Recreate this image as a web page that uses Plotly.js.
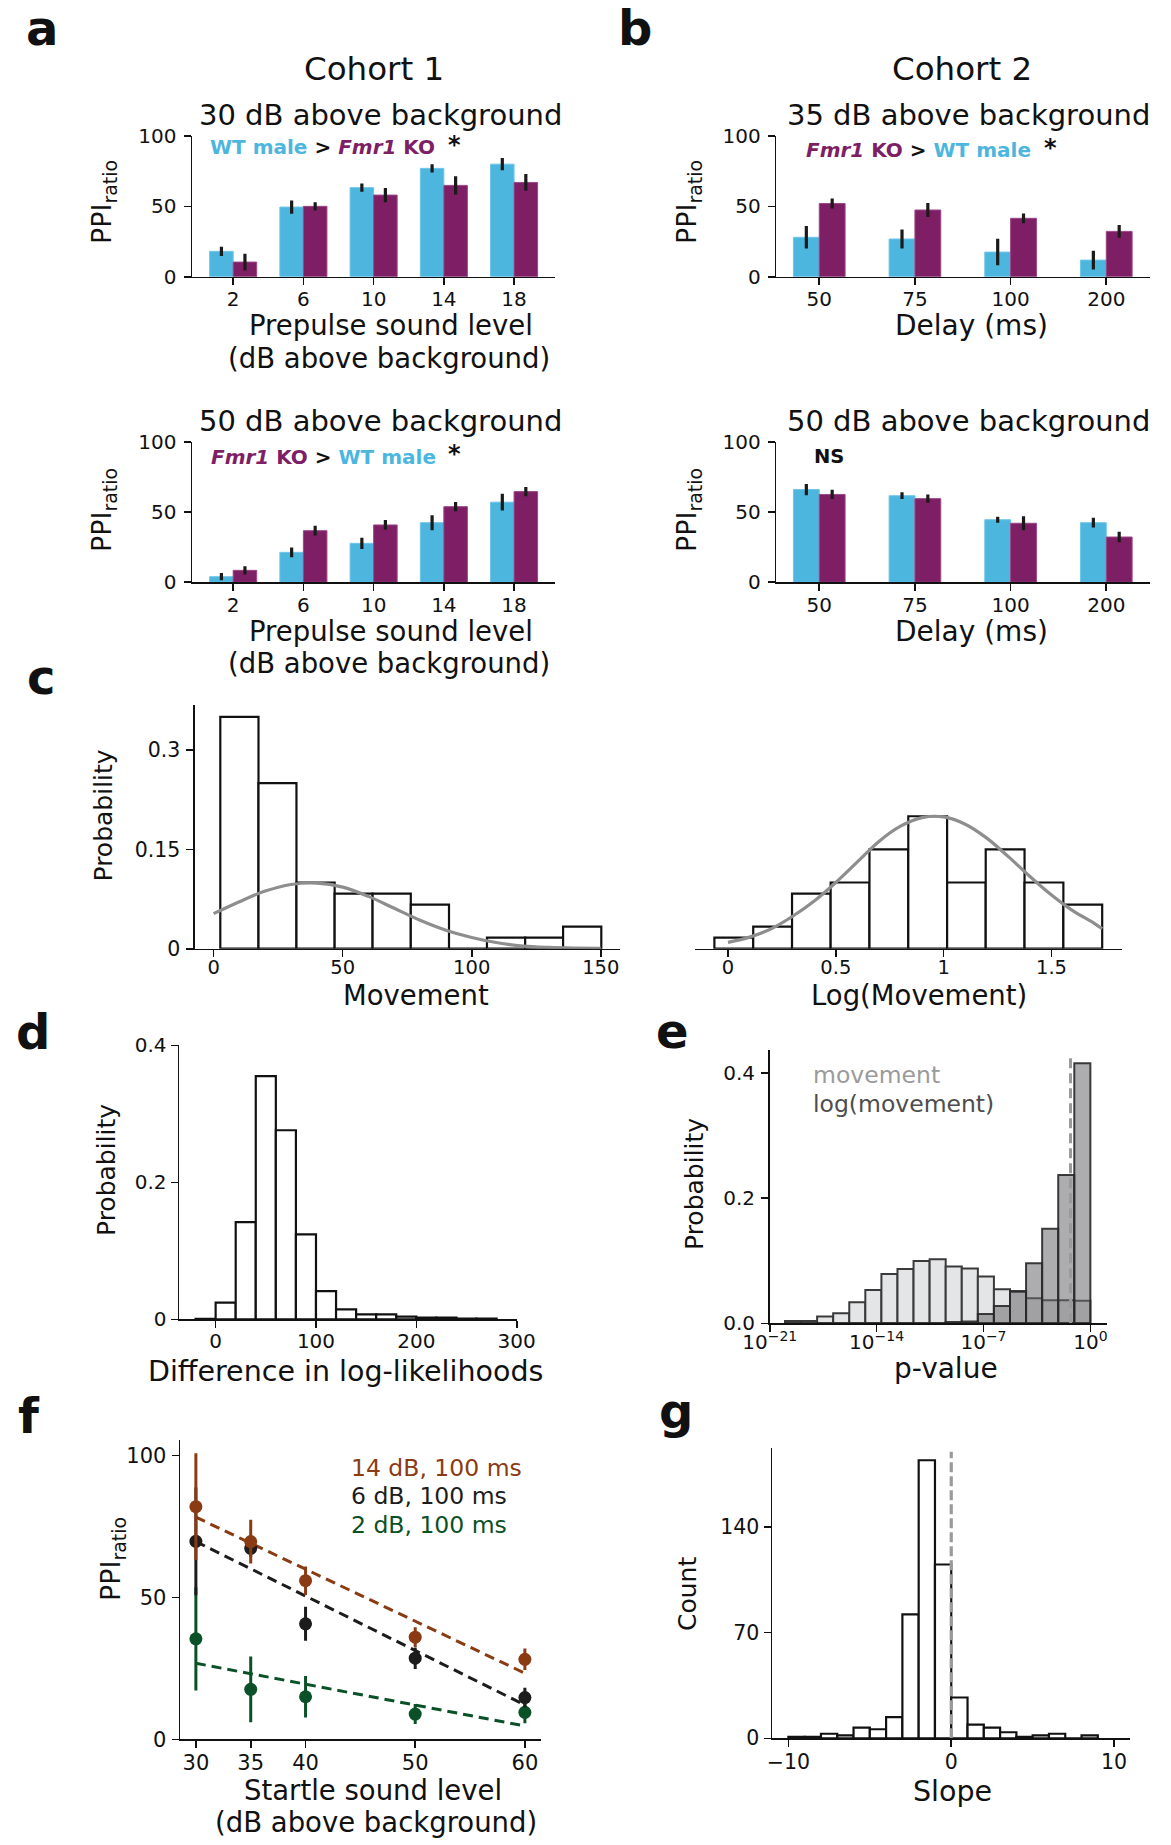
<!DOCTYPE html>
<html><head><meta charset="utf-8">
<script src="https://cdn.plot.ly/plotly-3.0.1.min.js"></script>
<style>html,body{margin:0;padding:0;background:#fff;}#chart{width:1171px;height:1845px;}</style>
</head><body><div id="chart"></div>
<script>
// ---------------- data ----------------
const prepulseLevels = ['2', '6', '10', '14', '18'];
const a30WT = [18, 49.5, 63.3, 77, 80];
const a30WTerr = [3.3, 4.7, 3, 3, 4.3];
const a30KO = [10.4, 50, 58, 64.9, 67];
const a30KOerr = [6, 3, 5, 6.5, 6];
const a50WT = [4, 21.3, 27.7, 42.4, 57];
const a50WTerr = [2.6, 3.5, 4, 5.3, 6];
const a50KO = [8.5, 36.7, 40.8, 53.8, 64.5];
const a50KOerr = [3, 3.5, 3.5, 3.3, 3.3];

const delays = ['50', '75', '100', '200'];
const b35WT = [28, 26.8, 17.5, 11.8];
const b35WTerr = [8, 6.8, 9.4, 6.6];
const b35KO = [52, 47.4, 41.5, 32.2];
const b35KOerr = [3.5, 5, 3.5, 4.5];
const b50WT = [66, 61.6, 44.5, 42.4];
const b50WTerr = [4, 2.4, 2.1, 3.5];
const b50KO = [62.5, 59.5, 42, 32.2];
const b50KOerr = [3.3, 3, 5, 3.7];

const movementEdges = [2.6, 17.4, 32.1, 46.9, 61.6, 76.4, 91.2, 105.9, 120.7, 135.4, 150.2];
const movementProb = [0.35, 0.25, 0.10, 0.0833, 0.0833, 0.0667, 0, 0.0167, 0.0167, 0.0333];
const movementFitX = [0, 10, 20, 30, 40, 50, 60, 70, 80, 90, 100, 110, 120, 130, 140, 150];
const movementFitY = [0.053, 0.071, 0.087, 0.097, 0.099, 0.093, 0.079, 0.061, 0.043, 0.028, 0.017, 0.009, 0.004, 0.002, 0.001, 0.0005];

const logMovementEdges = [-0.063, 0.117, 0.297, 0.476, 0.656, 0.836, 1.016, 1.195, 1.375, 1.555, 1.735];
const logMovementProb = [0.0167, 0.0333, 0.0833, 0.1, 0.15, 0.2, 0.1, 0.15, 0.1, 0.0667];
const logMovementFitX = [0, 0.1, 0.2, 0.3, 0.4, 0.5, 0.6, 0.7, 0.8, 0.9, 1.0, 1.1, 1.2, 1.3, 1.4, 1.5, 1.6, 1.7, 1.735];
const logMovementFitY = [0.0096, 0.0175, 0.030, 0.049, 0.072, 0.100, 0.131, 0.162, 0.185, 0.198, 0.199, 0.188, 0.167, 0.139, 0.109, 0.081, 0.057, 0.038, 0.030];

const llDiffEdges = [-20, 0, 20, 40, 60, 80, 100, 120, 140, 160, 180, 200, 220, 240, 260, 280];
const llDiffProb = [0.0005, 0.0244, 0.142, 0.355, 0.276, 0.124, 0.041, 0.0146, 0.0073, 0.0073, 0.0039, 0.0024, 0.0024, 0.001, 0.001];

// p-value histogram: bin edges as log10(p)
const pLog10Edges = [-20, -18.947, -17.895, -16.842, -15.789, -14.737, -13.684, -12.632, -11.579, -10.526, -9.474, -8.421, -7.368, -6.316, -5.263, -4.211, -3.158, -2.105, -1.053, 0];
const pMovementProb = [0.0037, 0.0037, 0.0107, 0.016, 0.0336, 0.0533, 0.079, 0.087, 0.0997, 0.1024, 0.0907, 0.0875, 0.0747, 0.0544, 0.05, 0.04, 0.037, 0.037, 0.036];
const pLogMovementProb = [0, 0, 0, 0, 0, 0, 0, 0, 0, 0, 0.002, 0.003, 0.0147, 0.0277, 0.0517, 0.096, 0.151, 0.237, 0.416];
const pThresholdLog10 = -1.301;
const pTickVals = [-21, -14, -7, 0];
const pTickText = ['10<sup>−21</sup>', '10<sup>−14</sup>', '10<sup>−7</sup>', '10<sup>0</sup>'];

const startleLevels = [30, 35, 40, 50, 60];
const ppi14dB = [82.0, 69.7, 55.9, 36.0, 28.2];
const ppi14dBerr = [18.8, 7.7, 5.0, 3.5, 3.8];
const ppi6dB = [69.8, 67.3, 40.7, 28.6, 14.7];
const ppi6dBerr = [19, 3, 6, 3.8, 3.5];
const ppi2dB = [35.4, 17.6, 15.0, 8.9, 9.5];
const ppi2dBerr = [18.2, 11.6, 7.3, 3.5, 3.8];
const fitX = [30, 60];
const fit14dB = [78.3, 23.3];
const fit6dB = [69.7, 12.1];
const fit2dB = [26.8, 4.7];

const slopeEdges = [-10, -9, -8, -7, -6, -5, -4, -3, -2, -1, 0, 1, 2, 3, 4, 5, 6, 7, 8, 9];
const slopeCount = [1, 1, 3, 2, 7, 6, 14, 82, 184, 115, 27, 9, 7, 4, 1, 2, 3, 0, 2];
const slopeZeroLine = [0, 189.7];

// ---------------- styling / layout helpers ----------------
const W = 1171, H = 1845;
const FONT = "'DejaVu Sans', sans-serif";
const ink = '#111111';
const WT_C = '#4cb6de', WT_E = '#6ec6e8';
const KO_C = '#7e1f66', KO_E = '#9a4785';
const BROWN = '#8b3b13', BLACK = '#1c1c1c', GREEN = '#0b5128';
const xd = (l, r) => [l / W, r / W];
const yd = (t, b) => [1 - b / H, 1 - t / H];

function axis(extra, size, standoff) {
  return Object.assign({
    showline: true, linecolor: ink, linewidth: 1.6, ticks: 'outside', ticklen: 7,
    tickwidth: 1.6, tickcolor: ink, showgrid: false, zeroline: false, fixedrange: true,
    ticklabelstandoff: standoff || 0,
    tickfont: {family: FONT, size: size || 20, color: ink}
  }, extra);
}

function groupedBars(cats, wt, wtErr, ko, koErr, w, xa, ya) {
  const eb = arr => ({type: 'data', array: arr, visible: true, thickness: 3.2, width: 0, color: '#1a1a1a'});
  return [
    {type: 'bar', x: cats, y: wt, width: w, offset: -w, marker: {color: WT_C, line: {color: WT_E, width: 1}},
     error_y: eb(wtErr), xaxis: xa, yaxis: ya, hoverinfo: 'skip'},
    {type: 'bar', x: cats, y: ko, width: w, offset: 0, marker: {color: KO_C, line: {color: KO_E, width: 1}},
     error_y: eb(koErr), xaxis: xa, yaxis: ya, hoverinfo: 'skip'}
  ];
}

function histBars(edges, heights, xa, ya, fill, edge, lw) {
  const x = heights.map((_, i) => (edges[i] + edges[i + 1]) / 2);
  const w = heights.map((_, i) => edges[i + 1] - edges[i]);
  return {type: 'bar', x: x, y: heights, width: w, marker: {color: fill, line: {color: edge, width: lw}},
          xaxis: xa, yaxis: ya, hoverinfo: 'skip'};
}

function pointsWithErr(x, y, err, color, xa, ya) {
  return {type: 'scatter', mode: 'markers', x: x, y: y, xaxis: xa, yaxis: ya,
          marker: {size: 13, color: color},
          error_y: {type: 'data', array: err, visible: true, thickness: 3, width: 0, color: color}, hoverinfo: 'skip'};
}
function dashed(x, y, color, width, dash, xa, ya) {
  return {type: 'scatter', mode: 'lines', x: x, y: y, xaxis: xa, yaxis: ya,
          line: {color: color, width: width, dash: dash}, hoverinfo: 'skip'};
}

// ---------------- traces ----------------
const traces = [];
traces.push(...groupedBars(prepulseLevels, a30WT, a30WTerr, a30KO, a30KOerr, 0.335, 'x', 'y'));
traces.push(...groupedBars(prepulseLevels, a50WT, a50WTerr, a50KO, a50KOerr, 0.335, 'x2', 'y2'));
traces.push(...groupedBars(delays, b35WT, b35WTerr, b35KO, b35KOerr, 0.27, 'x3', 'y3'));
traces.push(...groupedBars(delays, b50WT, b50WTerr, b50KO, b50KOerr, 0.27, 'x4', 'y4'));

traces.push(histBars(movementEdges, movementProb, 'x5', 'y5', '#ffffff', ink, 2.2));
traces.push({type: 'scatter', mode: 'lines', x: movementFitX, y: movementFitY, xaxis: 'x5', yaxis: 'y5',
             line: {color: '#8e8e8e', width: 3.2, shape: 'spline'}, hoverinfo: 'skip'});
traces.push(histBars(logMovementEdges, logMovementProb, 'x6', 'y6', '#ffffff', ink, 2.2));
traces.push({type: 'scatter', mode: 'lines', x: logMovementFitX, y: logMovementFitY, xaxis: 'x6', yaxis: 'y6',
             line: {color: '#8e8e8e', width: 3.2, shape: 'spline'}, hoverinfo: 'skip'});

traces.push(histBars(llDiffEdges, llDiffProb, 'x7', 'y7', '#ffffff', ink, 2.2));

traces.push(histBars(pLog10Edges, pMovementProb, 'x8', 'y8', '#e4e5e7', '#3a3a3a', 2));
traces.push(histBars(pLog10Edges, pLogMovementProb, 'x8', 'y8', 'rgba(105,106,110,0.55)', 'rgba(40,40,40,0.9)', 2));
traces.push(dashed([pThresholdLog10, pThresholdLog10], [0, 0.429], '#9a9a9a', 3, '10px,5px', 'x8', 'y8'));

traces.push(dashed(fitX, fit2dB, GREEN, 3, '10px,6px', 'x9', 'y9'));
traces.push(dashed(fitX, fit6dB, BLACK, 3, '10px,6px', 'x9', 'y9'));
traces.push(dashed(fitX, fit14dB, BROWN, 3, '10px,6px', 'x9', 'y9'));
traces.push(pointsWithErr(startleLevels, ppi2dB, ppi2dBerr, GREEN, 'x9', 'y9'));
traces.push(pointsWithErr(startleLevels, ppi6dB, ppi6dBerr, BLACK, 'x9', 'y9'));
traces.push(pointsWithErr(startleLevels, ppi14dB, ppi14dBerr, BROWN, 'x9', 'y9'));

traces.push(histBars(slopeEdges, slopeCount, 'x10', 'y10', '#ffffff', ink, 2.2));
traces.push(dashed([0, 0], slopeZeroLine, '#9a9a9a', 3.2, '10px,4px', 'x10', 'y10'));

// ---------------- annotations ----------------
const anns = [];
function txt(text, cx, base, size, opt) {
  opt = opt || {};
  const f = Object.assign({family: FONT, size: size, color: ink}, opt.font || {});
  anns.push({xref: 'paper', yref: 'paper', x: cx / W, y: 1 - (base - 0.346 * size) / H,
             xanchor: opt.xanchor || 'center', yanchor: 'middle', text: text, showarrow: false, font: f});
}
function vtxt(text, cx, cy, size) {
  anns.push({xref: 'paper', yref: 'paper', x: cx / W, y: 1 - cy / H, xanchor: 'center', yanchor: 'middle',
             text: text, textangle: -90, showarrow: false, font: {family: FONT, size: size, color: ink}});
}
function centerTxt(text, cx, cy, size) {
  anns.push({xref: 'paper', yref: 'paper', x: cx / W, y: 1 - cy / H, xanchor: 'center', yanchor: 'middle',
             text: text, showarrow: false, font: {family: FONT, size: size, color: ink}});
}

// panel letters
const letterFont = {font: {family: FONT, size: 48, color: ink}};
[['a', 42, 45], ['b', 634.5, 45], ['c', 41, 694], ['d', 32.6, 1049], ['e', 672, 1048], ['f', 29, 1433], ['g', 676.4, 1428]]
  .forEach(l => txt('<b>' + l[0] + '</b>', l[1], l[2], 48, letterFont));

// a / b titles
txt('Cohort 1', 374, 80, 32.5);
txt('Cohort 2', 962, 80, 32.5);
txt('30 dB above background', 380, 125, 29);
txt('35 dB above background', 968, 125, 29);
txt('50 dB above background', 380, 430.7, 29);
txt('50 dB above background', 968, 430.7, 29);

const wtSpan = '<span style="color:' + WT_C + '">WT male</span>';
const koSpan = '<span style="color:' + KO_C + '"><i>Fmr1</i> KO</span>';
const gtSpan = '<span style="color:' + ink + '">&gt;</span>';
txt('<b>' + wtSpan + ' ' + gtSpan + ' ' + koSpan + '</b>', 322.7, 154, 20);
txt('<b>' + koSpan + ' ' + gtSpan + ' ' + wtSpan + '</b>', 918.5, 157, 20);
txt('<b>' + koSpan + ' ' + gtSpan + ' ' + wtSpan + '</b>', 323.7, 464, 20);
centerTxt('<b>*</b>', 454.6, 145, 24);
centerTxt('<b>*</b>', 1050.3, 148, 24);
centerTxt('<b>*</b>', 454.4, 454, 24);
txt('<b>NS</b>', 829.5, 463.3, 19.5);

txt('Prepulse sound level', 390.8, 335, 27.5);
txt('(dB above background)', 389, 367.2, 27.5);
txt('Prepulse sound level', 390.8, 640.7, 27.5);
txt('(dB above background)', 389, 672.9, 27.5);
txt('Delay (ms)', 971, 335, 28);
txt('Delay (ms)', 971, 640.7, 28);
vtxt('PPI<sub>ratio</sub>', 104, 202, 27);
vtxt('PPI<sub>ratio</sub>', 104, 510, 27);
vtxt('PPI<sub>ratio</sub>', 689, 202, 27);
vtxt('PPI<sub>ratio</sub>', 689, 510, 27);

// c
vtxt('Probability', 103, 815.5, 25);
txt('Movement', 416, 1004.5, 27.5);
txt('Log(Movement)', 919.4, 1004.5, 27.5);
// d
vtxt('Probability', 106, 1170, 25);
txt('Difference in log-likelihoods', 345, 1381.3, 28.5);
// e
vtxt('Probability', 694, 1184, 25);
txt('p-value', 946, 1378.3, 28);
txt('movement', 811, 1083.3, 23.5, {xanchor: 'left', font: {color: '#9a9a9a'}});
txt('log(movement)', 811, 1111.7, 23.5, {xanchor: 'left', font: {color: '#4d4d4d'}});
// f
txt('14 dB, 100 ms', 348.8, 1476, 23.5, {xanchor: 'left', font: {color: BROWN}});
txt('6 dB, 100 ms', 348.8, 1504.3, 23.5, {xanchor: 'left', font: {color: BLACK}});
txt('2 dB, 100 ms', 348.8, 1533.3, 23.5, {xanchor: 'left', font: {color: GREEN}});
txt('Startle sound level', 373, 1799.6, 27.5);
txt('(dB above background)', 376, 1831.8, 27.5);
vtxt('PPI<sub>ratio</sub>', 112, 1559, 27);
// g
txt('Slope', 952, 1801, 28.5);
vtxt('Count', 687, 1594, 25);

// ---------------- layout ----------------
const layout = {
  width: W, height: H, margin: {l: 0, r: 0, t: 0, b: 0}, showlegend: false,
  paper_bgcolor: '#ffffff', plot_bgcolor: 'rgba(0,0,0,0)', barmode: 'overlay',
  font: {family: FONT, color: ink},
  xaxis: axis({domain: xd(192.1, 554.8), anchor: 'y', type: 'category', range: [-0.585, 4.58]}, 20, -3),
  yaxis: axis({domain: yd(136, 276.7), anchor: 'x', range: [0, 100], tickvals: [0, 50, 100]}, 20, 3),
  xaxis2: axis({domain: xd(192.1, 554.8), anchor: 'y2', type: 'category', range: [-0.585, 4.58]}, 20, -3),
  yaxis2: axis({domain: yd(441.7, 582.3), anchor: 'x2', range: [0, 100], tickvals: [0, 50, 100]}, 20, 3),
  xaxis3: axis({domain: xd(776.3, 1150), anchor: 'y3', type: 'category', range: [-0.449, 3.457]}, 20, -3),
  yaxis3: axis({domain: yd(136, 276.7), anchor: 'x3', range: [0, 100], tickvals: [0, 50, 100]}, 20, 3),
  xaxis4: axis({domain: xd(776.3, 1150), anchor: 'y4', type: 'category', range: [-0.449, 3.457]}, 20, -3),
  yaxis4: axis({domain: yd(441.7, 582.3), anchor: 'x4', range: [0, 100], tickvals: [0, 50, 100]}, 20, 3),
  xaxis5: axis({domain: xd(195, 620.4), anchor: 'y5', range: [-7.2, 157.6], tickvals: [0, 50, 100, 150]}, 19.5, -7),
  yaxis5: axis({domain: yd(705, 948.7), anchor: 'x5', range: [0, 0.368], tickvals: [0, 0.15, 0.3], ticktext: ['0', '0.15', '0.3']}, 20.5, 2),
  xaxis6: axis({domain: xd(695.2, 1121.6), anchor: 'y6', range: [-0.152, 1.825], tickvals: [0, 0.5, 1, 1.5], ticktext: ['0', '0.5', '1', '1.5']}, 19.5, -7),
  yaxis6: {domain: yd(705, 948.7), anchor: 'x6', range: [0, 0.368], visible: false, fixedrange: true},
  xaxis7: axis({domain: xd(179.1, 516.7), anchor: 'y7', range: [-36.4, 300], tickvals: [0, 100, 200, 300]}, 20, -4),
  yaxis7: axis({domain: yd(1045.3, 1319.3), anchor: 'x7', range: [0, 0.4], tickvals: [0, 0.2, 0.4], ticktext: ['0', '0.2', '0.4']}, 20, 0),
  xaxis8: axis({domain: xd(769.7, 1106.7), anchor: 'y8', range: [-21, 1.07], tickvals: pTickVals, ticktext: pTickText}, 20, -7),
  yaxis8: axis({domain: yd(1050, 1323.3), anchor: 'x8', range: [0, 0.437], tickvals: [0, 0.2, 0.4], ticktext: ['0.0', '0.2', '0.4']}, 20, 2),
  xaxis9: axis({domain: xd(180.2, 541), anchor: 'y9', range: [28.57, 61.47], tickvals: startleLevels}, 21, -3),
  yaxis9: axis({domain: yd(1440, 1739.3), anchor: 'x9', range: [0, 105.5], tickvals: [0, 50, 100]}, 21, 1),
  xaxis10: axis({domain: xd(772.1, 1130.4), anchor: 'y10', range: [-11, 11], tickvals: [-10, 0, 10], ticktext: ['−10', '0', '10']}, 20.5, -3),
  yaxis10: axis({domain: yd(1447.7, 1738.3), anchor: 'x10', range: [0, 192.3], tickvals: [0, 70, 140]}, 20.5, 0),
  annotations: anns
};

Plotly.newPlot('chart', traces, layout, {staticPlot: true, displayModeBar: false});
</script>
</body></html>
